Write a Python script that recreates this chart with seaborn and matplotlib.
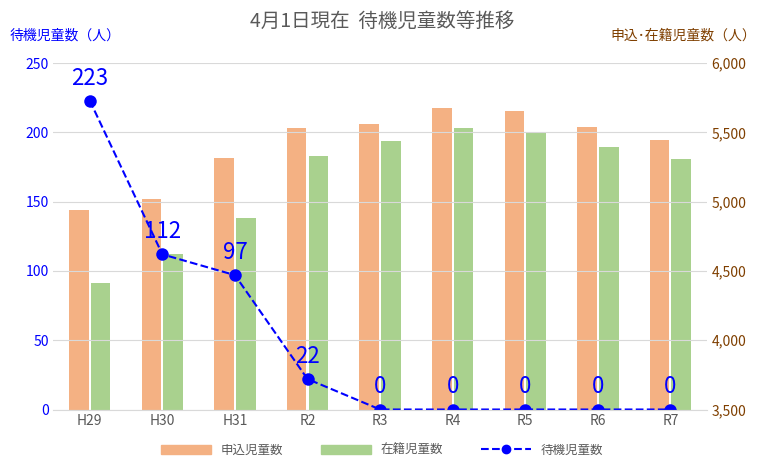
import matplotlib
matplotlib.use("Agg")
import matplotlib.pyplot as plt
import seaborn as sns
import pandas as pd
import numpy as np

plt.rcParams["font.family"] = ["Noto Sans CJK JP"]

years = ["H29", "H30", "H31", "R2", "R3", "R4", "R5", "R6", "R7"]
applied = [4940, 5020, 5315, 5530, 5560, 5675, 5655, 5540, 5445]
enrolled = [4410, 4625, 4885, 5330, 5440, 5530, 5495, 5395, 5310]
waiting = [223, 112, 97, 22, 0, 0, 0, 0, 0]

df = pd.DataFrame({"year": years * 2,
                   "value": applied + enrolled,
                   "kind": ["申込児童数"] * 9 + ["在籍児童数"] * 9})

fig = plt.figure(figsize=(7.64, 4.68), dpi=100)
axL = fig.add_axes([0.07, 0.125, 0.855, 0.74])
axR = axL.twinx()

sns.barplot(data=df, x="year", y="value", hue="kind", ax=axR, saturation=1,
            palette=["#F4B183", "#A9D18E"], width=0.6, gap=0.1, legend=False)
axR.set_ylim(3500, 6000)
axR.set_yticks(np.arange(3500, 6001, 500))
axR.set_yticklabels([f"{v:,}" for v in range(3500, 6001, 500)])
axR.set_ylabel("")
axR.tick_params(axis="y", colors="#7F3F00", labelsize=10, length=0)

x = np.arange(len(years))
axL.set_zorder(axR.get_zorder() + 1)
axL.patch.set_visible(False)
sns.lineplot(x=x, y=waiting, ax=axL, color="#0000FF", linestyle="--",
             marker="o", markersize=9, markeredgewidth=0, linewidth=1.5)
for xi, w in zip(x, waiting):
    axL.text(xi, w + 8, str(w), ha="center", va="bottom", color="#0000FF", fontsize=16)
axL.set_ylim(0, 250)
axL.set_xlim(-0.5, 8.5)
axL.set_yticks(range(0, 251, 50))
axL.tick_params(axis="y", colors="#0000FF", labelsize=10, length=0)
axL.set_xticks(x)
axL.set_xticklabels(years)
axL.tick_params(axis="x", colors="#595959", labelsize=10, length=0)
axR.set_xlim(-0.5, 8.5)
axR.set_xlabel("")
axL.grid(axis="y", color="#D9D9D9", linewidth=0.8)
axL.set_axisbelow(True)
for a in (axL, axR):
    for s in a.spines.values():
        s.set_visible(False)
axL.spines["bottom"].set_visible(True)
axL.spines["bottom"].set_color("#D9D9D9")

fig.text(0.5, 0.955, "4月1日現在  待機児童数等推移", ha="center", va="center", fontsize=14, color="#595959")
fig.text(0.012, 0.925, "待機児童数（人）", ha="left", va="center", fontsize=10, color="#0000FF")
fig.text(0.99, 0.925, "申込･在籍児童数（人）", ha="right", va="center", fontsize=10, color="#7F3F00")

from matplotlib.patches import Patch
from matplotlib.lines import Line2D
handles = [Patch(color="#F4B183"), Patch(color="#A9D18E"),
           Line2D([], [], color="#0000FF", linestyle="--", marker="o", markersize=6)]
fig.legend(handles, ["申込児童数", "在籍児童数", "待機児童数"], loc="lower center",
           ncol=3, frameon=False, fontsize=9, bbox_to_anchor=(0.5, 0.0),
           handlelength=4, columnspacing=3, labelcolor="#595959")

fig.savefig("out.png", dpi=100)
